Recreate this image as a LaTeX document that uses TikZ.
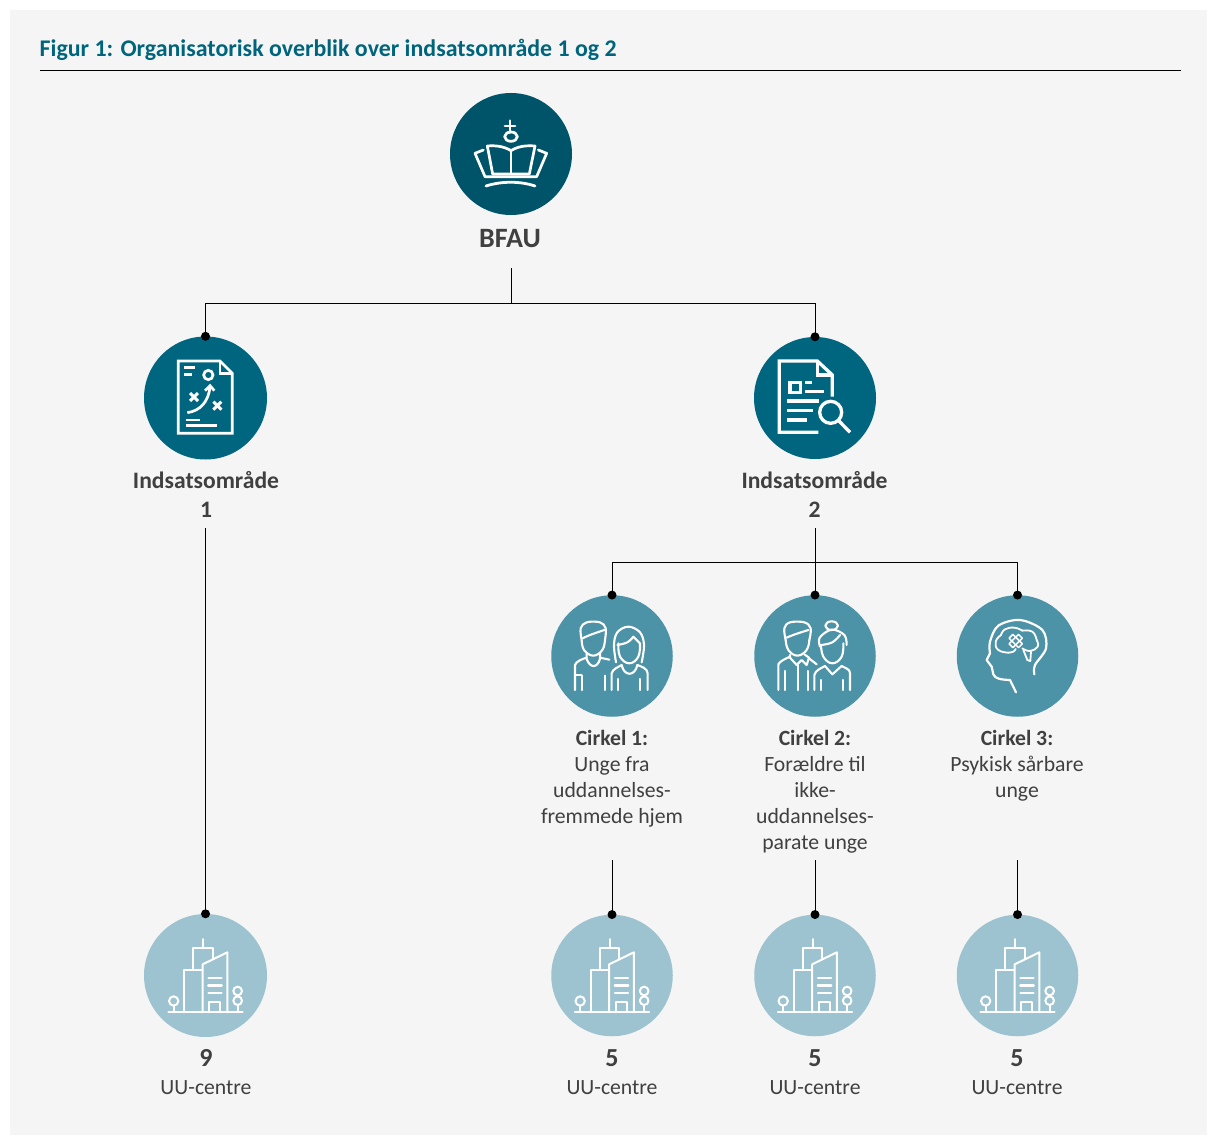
\documentclass[tikz,border=0pt]{standalone}
\usepackage{fontspec}
\setmainfont{Carlito}
\definecolor{panelbg}{HTML}{F5F5F5}
\definecolor{titleteal}{HTML}{00657C}
\definecolor{darkteal}{HTML}{00546A}
\definecolor{midteal}{HTML}{00667F}
\definecolor{softteal}{HTML}{4D93A8}
\definecolor{paleteal}{HTML}{9CC3CF}
\definecolor{txt}{HTML}{404040}
\tikzset{
  disc/.style={circle,inner sep=0pt,minimum size=#1,draw=none},
  conn/.style={draw=black,line width=1pt},
  pin/.style={circle,fill=black,inner sep=0pt,minimum size=9pt,draw=none},
  lbl/.style={inner sep=0pt,text=txt,align=center,anchor=north},
  icon/.style={draw=white,line width=#1,line cap=round,line join=round},
  icon/.default=1.5pt,
  zoomed/.style={x=.33333pt,y=-.33333pt}
}
\newcommand{\cityicon}[1]{%
\begin{scope}[shift={(#1pt,-905pt)},zoomed,icon=2pt]
  \draw (100,322)--(323,322);
  \draw (148,322)--(148,195)--(203,195);
  \draw (203,322)--(203,178)--(277,142)--(277,322);
  \draw (175,190)--(175,130)--(233,130)--(233,160);
  \draw (204,130)--(204,102);
  \draw (220,218)--(260,218);
  \draw[line width=2.6pt] (220,241)--(260,241);
  \draw (220,264)--(260,264);
  \draw (222,322)--(222,292)--(255,292)--(255,322);
  \draw (116,288) circle[radius=14];
  \draw (116,302)--(116,322);
  \draw (308,258) circle[radius=13];
  \draw (308,287) circle[radius=13];
  \draw (308,300)--(308,322);
\end{scope}}
\begin{document}
\begin{tikzpicture}[x=1pt,y=-1pt]
\useasboundingbox (0,0) rectangle (1208,1137);
\fill[white] (0,0) rectangle (1208,1137);
\fill[panelbg] (10,10) rectangle (1207,1135);

% title
\node[inner sep=0pt,anchor=base west,text=titleteal,font=\fontsize{23.9}{28}\selectfont\bfseries] (title) at (39.5,56.5) {Figur 1: Organisatorisk overblik over indsatsområde 1 og 2};
\coordinate (ruleL) at (40,70.5);
\coordinate (ruleR) at (1181,70.5);
\draw[line width=1pt] (ruleL)--(ruleR);

% discs
\node[disc=122pt,fill=darkteal] (bfau) at (511,154) {};
\node[disc=123pt,fill=midteal] (omr1) at (205.5,398) {};
\node[disc=122pt,fill=midteal] (omr2) at (815,398) {};
\node[disc=121.5pt,fill=softteal] (c1) at (612,656) {};
\node[disc=121.5pt,fill=softteal] (c2) at (815,656) {};
\node[disc=121.5pt,fill=softteal] (c3) at (1017.5,656) {};
\node[disc=123pt,fill=paleteal] (u1) at (205.5,975.5) {};
\node[disc=121.5pt,fill=paleteal] (u2) at (612,975.5) {};
\node[disc=121.5pt,fill=paleteal] (u3) at (815,975.5) {};
\node[disc=121.5pt,fill=paleteal] (u4) at (1017.5,975.5) {};

% labels
\node[lbl,font=\fontsize{28}{32}\selectfont\bfseries] (tbfau) at (510,229.5) {BFAU};
\node[lbl,font=\fontsize{23.6}{28.5}\selectfont\bfseries] (t1) at (206,471.5) {Indsatsområde\\1};
\node[lbl,font=\fontsize{23.6}{28.5}\selectfont\bfseries] (t2) at (814.5,471.5) {Indsatsområde\\2};
\node[lbl,font=\fontsize{21.7}{26}\selectfont] (tc1) at (612,730) {\textbf{Cirkel 1:}\\Unge fra\\uddannelses-\\fremmede hjem};
\node[lbl,font=\fontsize{21.7}{26}\selectfont] (tc2) at (815,730) {\textbf{Cirkel 2:}\\Forældre til\\ikke-\\uddannelses-\\parate unge};
\node[lbl,font=\fontsize{21.7}{26}\selectfont] (tc3) at (1017,730) {\textbf{Cirkel 3:}\\Psykisk sårbare\\unge};
\foreach \n/\x/\v in {a/206/9,b/612/5,c/815/5,d/1017/5}{
  \node[lbl,font=\fontsize{26}{30}\selectfont\bfseries] (num\n) at (\x,1049.5) {\v};
  \node[lbl,font=\fontsize{21.7}{26}\selectfont] (uu\n) at (\x,1080.5) {UU-centre};
}

% connectors
\coordinate (fromB) at (511,268);
\coordinate (jB) at (511,303.5);
\coordinate (from1) at (205.5,528);
\coordinate (from2) at (815,528);
\coordinate (jC) at (815,562.5);
\coordinate (fromC1) at (612,860);
\coordinate (fromC2) at (815,860);
\coordinate (fromC3) at (1017.5,860);
\draw[conn] (fromB)--(jB);
\draw[conn] (omr1.north)|-(jB)-|(omr2.north);
\draw[conn] (from1)--(u1.north);
\draw[conn] (from2)--(c2.north);
\draw[conn] (c1.north)|-(jC)-|(c3.north);
\draw[conn] (fromC1)--(u2.north);
\draw[conn] (fromC2)--(u3.north);
\draw[conn] (fromC3)--(u4.north);
\foreach \n in {omr1,omr2,c1,c2,c3,u1,u2,u3,u4}{
  \node[pin] (pin\n) at (\n.north) {};
}

% crown
\begin{scope}[shift={(430pt,-80pt)},zoomed,icon=2.7pt]
  \draw (240,122)--(240,158);
  \draw (225,138)--(255,138);
  \draw (243,170) ellipse[x radius=19,y radius=14];
  \draw (243,212)--(243,280);
  \draw (243,212) .. controls (220,198) and (195,196) .. (172,198) -- (188,282) -- (298,282) -- (315,198) .. controls (290,196) and (265,198) .. (243,212);
  \draw (160,210)--(135,220)--(165,290)--(320,290)--(350,220)--(325,210);
  \draw[line width=2.8pt] (168,318) .. controls (215,303) and (270,303) .. (315,318);
\end{scope}

% strategy document
\begin{scope}[shift={(130pt,-325pt)},zoomed,icon=2.7pt,line cap=butt,line join=miter]
  \draw (270,108)--(145,108)--(145,325)--(307,325)--(307,145)--cycle;
  \draw (270,108)--(270,145)--(307,145);
  \draw (163,128)--(195,128);
  \draw (163,148)--(187,148);
  \draw (235,150) circle[radius=14];
  \draw (172,263) .. controls (210,258) and (236,230) .. (240,185);
  \draw (225,197)--(240,182)--(253,197);
  \draw[line width=3pt] (180,204)--(204,228) (204,204)--(180,228);
  \draw[line width=3pt] (250,230)--(274,254) (274,230)--(250,254);
  \draw (167,285)--(210,285);
  \draw (167,302)--(262,302);
\end{scope}

% search document
\begin{scope}[shift={(740pt,-325pt)},zoomed,icon=3.3pt,line cap=butt,line join=miter]
  \draw (235,322)--(118,322)--(118,108)--(232,108)--(277,150)--(277,215);
  \draw (232,108)--(232,150)--(277,150);
  \draw (150,172) rectangle (182,203);
  \draw (195,172)--(215,172);
  \draw (195,200)--(252,200);
  \draw (142,228)--(238,228);
  \draw (142,257)--(220,257);
  \draw (142,285)--(200,285);
  \draw (272,262) circle[radius=33];
  \draw (297,288)--(330,322);
\end{scope}

% young people
\begin{scope}[shift={(540pt,-585pt)},zoomed,icon=2.1pt]
  \draw plot[smooth,tension=.6] coordinates {(125,165) (122,130) (140,112) (180,112) (197,130) (195,165)};
  \draw plot[smooth,tension=.7] coordinates {(125,165) (132,195) (160,212) (187,195) (195,165)};
  \draw plot[smooth,tension=.7] coordinates {(128,160) (150,150) (193,135)};
  \draw (105,315)--(105,240)..controls (108,230) and (125,222)..(140,218);
  \draw (140,205)--(140,222) .. controls (150,250) and (172,250) .. (180,222)--(180,205);
  \draw (180,218)--(208,224);
  \draw (125,315)--(125,272);
  \draw (195,315)--(195,272);
  \draw (105,270)--(125,270);
  \draw plot[smooth,tension=.6] coordinates {(228,232) (222,180) (232,142) (265,125) (300,142) (312,180) (305,232)};
  \draw plot[smooth,tension=.7] coordinates {(235,175) (240,215) (268,235) (295,215) (300,175)};
  \draw plot[smooth,tension=.7] coordinates {(232,180) (262,172) (280,155)};
  \draw (280,155)--(300,175);
  \draw (215,315)--(215,265)..controls (218,252) and (232,248)..(245,240);
  \draw (245,240) .. controls (252,275) and (285,275) .. (292,240);
  \draw (292,240)..controls (305,245) and (322,250)..(323,265)--(323,315);
  \draw (235,315)--(235,282);
  \draw (300,315)--(300,282);
\end{scope}

% parents
\begin{scope}[shift={(745pt,-585pt)},zoomed,icon=2.1pt]
  \draw plot[smooth,tension=.6] coordinates {(122,165) (118,130) (135,112) (178,112) (197,130) (193,165)};
  \draw plot[smooth,tension=.7] coordinates {(122,165) (130,195) (157,212) (185,195) (193,165)};
  \draw plot[smooth,tension=.7] coordinates {(125,158) (150,148) (190,135)};
  \draw (100,315)--(100,238)..controls (105,228) and (120,222)..(135,215);
  \draw (135,210)--(135,218)--(155,240)--(170,225)--(185,240)--(192,218)--(178,208);
  \draw (158,240)--(158,315);
  \draw (120,315)--(120,258);
  \draw (188,315)--(188,258);
  \draw (192,220)--(215,238);
  \draw (260,122) ellipse[x radius=19,y radius=13];
  \draw plot[smooth,tension=.6] coordinates {(225,185) (224,158) (260,134) (298,150) (305,180)};
  \draw plot[smooth,tension=.7] coordinates {(228,180) (235,215) (262,235) (290,215) (295,175)};
  \draw plot[smooth,tension=.7] coordinates {(228,180) (262,172) (285,150)};
  \draw (208,315)--(208,270)..controls (212,255) and (228,250)..(240,243);
  \draw (240,243)--(262,268)--(290,243);
  \draw (290,243)..controls (302,250) and (315,252)..(315,265)--(315,315);
  \draw (228,315)--(228,285);
  \draw (295,315)--(295,285);
\end{scope}

% head with brain
\begin{scope}[shift={(945pt,-585pt)},zoomed,icon=2.2pt]
  \draw plot[smooth,tension=.55] coordinates {(268,268) (270,240) (303,190) (292,135) (225,105) (160,122) (135,170) (135,205)};
  \draw (135,205)--(125,225)--(140,245)--(145,268)..controls (150,282) and (170,284)..(195,285)--(213,322);
  \draw[line width=1.8pt] plot[smooth,tension=.8] coordinates {(190,203) (160,195) (152,170) (168,150)};
  \draw[line width=1.8pt] plot[smooth,tension=.8] coordinates {(168,150) (180,133) (208,128) (232,137)};
  \draw[line width=1.8pt] plot[smooth,tension=.8] coordinates {(232,137) (262,140) (275,165)};
  \draw[line width=1.8pt] plot[smooth,tension=.8] coordinates {(275,165) (278,185) (255,198) (232,190)};
  \draw[line width=1.8pt] plot[smooth,tension=.8] coordinates {(190,203) (205,200) (212,192)};
  \draw[line width=1.8pt] (235,195)--(247,225)--(256,228)--(258,200);
  \begin{scope}[line width=1.5pt]
    \draw[rotate around={45:(212,168)}] (192,160) rectangle (232,176);
    \draw[rotate around={-45:(212,168)}] (192,160) rectangle (232,176);
  \end{scope}
\end{scope}

% city icons
\cityicon{135}
\cityicon{541.5}
\cityicon{744.5}
\cityicon{947}
\end{tikzpicture}
\end{document}
